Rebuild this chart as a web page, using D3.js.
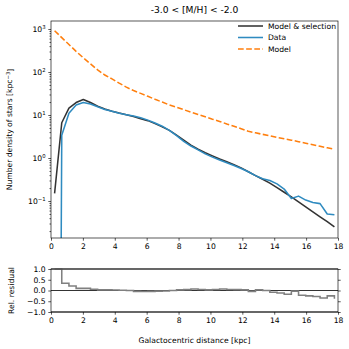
<!DOCTYPE html>
<html><head><meta charset="utf-8">
<script src="https://cdn.jsdelivr.net/npm/d3@7"></script>
<style>
body{margin:0;background:#fff;}
svg{display:block;font-family:"DejaVu Sans",sans-serif;}
</style></head>
<body>
<svg id="c" width="349" height="349"></svg>
<script>
const title = "-3.0 < [M/H] < -2.0";
const radius = [0.225,0.675,1.125,1.575,2.025,2.475,2.925,3.375,3.825,4.275,4.725,5.175,5.625,6.075,6.525,6.975,7.425,7.875,8.325,8.775,9.225,9.675,10.125,10.575,11.025,11.475,11.925,12.375,12.825,13.275,13.725,14.175,14.625,15.075,15.525,15.975,16.425,16.875,17.325,17.775];
const modelSel = [0.15,6.6,14.5,19.5,23,19.5,16,13.8,12.3,11.1,10.2,9.2,8.2,7.4,6.3,5.3,4.4,3.4,2.6,2.0,1.6,1.33,1.12,0.95,0.82,0.70,0.59,0.48,0.39,0.32,0.26,0.205,0.16,0.125,0.096,0.073,0.056,0.043,0.033,0.025];
const dataVals = [0,3.4,11,17,19.5,18,15.5,13.5,12.2,11.0,10.2,9.5,8.6,7.6,6.5,5.5,4.4,3.3,2.45,1.9,1.55,1.25,1.05,0.90,0.78,0.67,0.57,0.48,0.39,0.33,0.30,0.25,0.19,0.115,0.13,0.105,0.092,0.087,0.05,0.048];
const modelVals = [912,630,436,302,214,155,112,85,69,55,44.5,37,31.8,27.2,23.2,20,17.1,15.1,13.3,11.7,10.3,9.1,8.0,7.1,6.2,5.5,4.8,4.2,3.85,3.55,3.3,3.0,2.8,2.6,2.4,2.2,2.03,1.87,1.73,1.6];
const residual = [1.0,0.34,0.21,0.10,0.10,0.06,0.03,0.03,0.02,0.01,0.0,-0.04,-0.05,-0.04,-0.03,-0.02,0.0,0.03,0.04,0.07,0.05,0.03,0.05,0.07,0.05,0.04,0.03,-0.04,0.03,0.0,-0.08,-0.12,-0.17,-0.03,-0.22,-0.25,-0.28,-0.35,-0.25,-0.38];
const xTicks = [0,2,4,6,8,10,12,14,16,18];
const yMajor = [-1,0,1,2,3];
const rTicks = [1.0,0.5,0.0,-0.5,-1.0];
const legendLabels = ["Model & selection","Data","Model"];

const svg = d3.select("#c");
const L=51, R=338, T=21, B=238, RT=269, RB=312;
const fs = 7.64, tk = 2.7, tkMinor = 1.5, pad = 2.7, sw = 0.65, lw = 1.55;
const x = d3.scaleLinear().domain([0,18]).range([L,R]);
const y = d3.scaleLog().domain([Math.pow(10,-1.86), Math.pow(10,3.186)]).range([B,T]);
const yr = d3.scaleLinear().domain([-1,1]).range([RB,RT]);

svg.append("defs").append("clipPath").attr("id","clipMain")
  .append("rect").attr("x",L).attr("y",T).attr("width",R-L).attr("height",B-T);
svg.append("defs").append("clipPath").attr("id","clipRes")
  .append("rect").attr("x",L).attr("y",RT-2).attr("width",R-L+1).attr("height",RB-RT+4);

// title
svg.append("text").attr("x",(L+R)/2).attr("y",12.5).attr("text-anchor","middle")
  .attr("font-size",9.17).attr("fill","#000").text(title);

// main lines
const floor = 1e-30;
const line = d3.line().x((d,i)=>x(radius[i])).y(d=>y(Math.max(d,floor)));
const gm = svg.append("g").attr("clip-path","url(#clipMain)");
gm.append("path").attr("d",line(modelSel)).attr("fill","none").attr("stroke","#333")
  .attr("stroke-width",lw).attr("stroke-linejoin","round");
gm.append("path").attr("d",line(dataVals)).attr("fill","none").attr("stroke","#2f8bc0")
  .attr("stroke-width",lw).attr("stroke-linejoin","round");
gm.append("path").attr("d",line(modelVals)).attr("fill","none").attr("stroke","#ff7f0e")
  .attr("stroke-width",lw).attr("stroke-dasharray","5.7,2.45");

// main x axis
svg.append("g").attr("transform",`translate(0,${B})`)
  .call(d3.axisBottom(x).tickValues(xTicks).tickSize(tk).tickPadding(pad).tickFormat(d3.format("d")));
// main y axis
const minor = [];
for (let e=-2;e<=3;e++) for (let m=2;m<=9;m++){const v=m*Math.pow(10,e); if(v>=y.domain()[0]&&v<=y.domain()[1]) minor.push(v);}
svg.append("g").attr("transform",`translate(${L},0)`)
  .call(d3.axisLeft(y).tickValues(minor).tickSize(tkMinor).tickFormat(""));
const yAx = svg.append("g").attr("transform",`translate(${L},0)`)
  .call(d3.axisLeft(y).tickValues(yMajor.map(e=>Math.pow(10,e))).tickSize(tk).tickPadding(pad).tickFormat(""));
yAx.selectAll(".tick").each(function(d){
  const e = Math.round(Math.log10(d));
  const t = d3.select(this).append("text").attr("class","ylab").attr("x",-(tk+pad)).attr("dy","0.32em")
    .attr("text-anchor","end").attr("fill","#000").attr("font-size",fs);
  t.append("tspan").text("10");
  t.append("tspan").attr("dy","-0.55em").attr("font-size",fs*0.7).text(e<0?"\u2212"+(-e):String(e));
});
// frame
svg.append("rect").attr("x",L).attr("y",T).attr("width",R-L).attr("height",B-T)
  .attr("fill","none").attr("stroke","#000").attr("stroke-width",sw);
svg.append("text").attr("transform",`translate(12,${(T+B)/2}) rotate(-90)`).attr("text-anchor","middle")
  .attr("font-size",fs).attr("fill","#000")
  .call(t=>{t.append("tspan").text("Number density of stars [kpc");
            t.append("tspan").attr("dy","-0.45em").attr("font-size",fs*0.7).text("\u22123");
            t.append("tspan").attr("dy","0.45em").text("]");});

// legend
const legC = ["#333","#2f8bc0","#ff7f0e"];
const legY = [26,37.5,49];
legendLabels.forEach((lab,i)=>{
  svg.append("line").attr("x1",238).attr("x2",263).attr("y1",legY[i]).attr("y2",legY[i])
    .attr("stroke",legC[i]).attr("stroke-width",lw)
    .attr("stroke-dasharray",i==2?"5.7,2.45":null);
  svg.append("text").attr("x",268).attr("y",legY[i]).attr("dy","0.35em")
    .attr("font-size",fs).attr("fill","#000").text(lab);
});

// residual panel
svg.append("line").attr("x1",L).attr("x2",R).attr("y1",yr(0)).attr("y2",yr(0)).attr("stroke","#000").attr("stroke-width",0.8);
const gr = svg.append("g").attr("clip-path","url(#clipRes)");
[1,-1].forEach(v=>gr.append("line").attr("x1",L).attr("x2",R).attr("y1",yr(v)).attr("y2",yr(v))
  .attr("stroke","#777").attr("stroke-width",1.5));
const rline = d3.line().x((d,i)=>x(radius[i])).y(d=>yr(d)).curve(d3.curveStepAfter);
gr.append("path").attr("d",rline(residual)).attr("fill","none").attr("stroke","#808080").attr("stroke-width",lw);
svg.append("rect").attr("x",L).attr("y",RT).attr("width",R-L).attr("height",RB-RT)
  .attr("fill","none").attr("stroke","#000").attr("stroke-width",sw);
svg.append("g").attr("transform",`translate(0,${RB})`)
  .call(d3.axisBottom(x).tickValues(xTicks).tickSize(tk).tickPadding(pad).tickFormat(d3.format("d")));
svg.append("g").attr("transform",`translate(${L},0)`)
  .call(d3.axisLeft(yr).tickValues(rTicks).tickSize(tk).tickPadding(pad).tickFormat(d=>d3.format(".1f")(d).replace("-","\u2212")));
svg.append("g").attr("transform",`translate(${R},0)`)
  .call(d3.axisRight(yr).tickValues(rTicks).tickSize(tk).tickFormat(""));
svg.append("text").attr("transform",`translate(14,${(RT+RB)/2}) rotate(-90)`).attr("text-anchor","middle")
  .attr("font-size",fs).attr("fill","#000").text("Rel. residual");
svg.append("text").attr("x",(L+R)/2).attr("y",343).attr("text-anchor","middle")
  .attr("font-size",fs).attr("fill","#000").text("Galactocentric distance [kpc]");

svg.selectAll(".domain").remove();
svg.selectAll(".tick line").attr("stroke","#000").attr("stroke-width",sw);
svg.selectAll(".tick text").attr("font-size",fs).attr("fill","#000").attr("font-family","DejaVu Sans");
</script>
</body></html>
